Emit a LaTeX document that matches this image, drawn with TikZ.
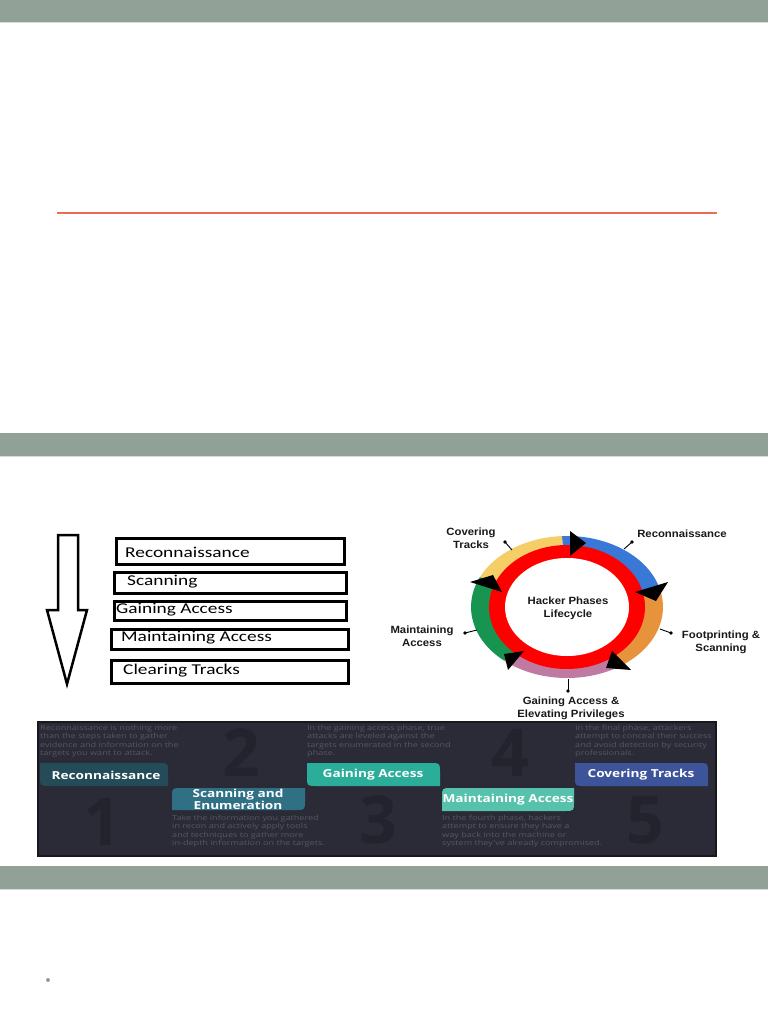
\documentclass[tikz,border=0pt]{standalone}
\usepackage{fontspec}
\usepackage{graphicx}
\setmainfont{Liberation Sans}
\newfontfamily\calfont{Carlito}
\newfontfamily\osfont{Open Sans}
\usetikzlibrary{calc}
\definecolor{barc}{RGB}{146,161,151}
\definecolor{barline}{RGB}{214,220,214}
\definecolor{redl}{RGB}{232,108,88}
\definecolor{bannerbg}{RGB}{42,43,54}
\definecolor{bannerbd}{RGB}{24,24,30}
\definecolor{bignum}{RGB}{34,35,45}
\definecolor{bodytx}{RGB}{86,87,98}
\definecolor{tabrecon}{RGB}{36,76,88}
\definecolor{tabscan}{RGB}{47,112,132}
\definecolor{tabgain}{RGB}{42,173,153}
\definecolor{tabmaint}{RGB}{86,194,172}
\definecolor{tabcover}{RGB}{62,84,154}
\definecolor{cblue}{RGB}{58,120,216}
\definecolor{corange}{RGB}{231,147,60}
\definecolor{cmauve}{RGB}{190,122,160}
\definecolor{cgreen}{RGB}{22,148,80}
\definecolor{cyellow}{RGB}{246,206,104}
\definecolor{cred}{RGB}{255,0,0}
\newcommand{\hs}[2]{\scalebox{#1}[1]{#2}}
\newcommand{\sector}[3]{\fill[#1] (cc) -- ($(cc)+({96*cos(#2)},{-71*sin(#2)})$) arc[start angle=#2, end angle=#3, x radius=96pt, y radius=71pt] -- cycle;}
\begin{document}
\begin{tikzpicture}[x=1pt,y=-1pt,
  lbox/.style={draw=black, line width=3pt, inner sep=0pt, anchor=north west},
  ltext/.style={anchor=west, inner sep=0pt, font=\calfont\fontsize{15}{15}\selectfont},
  clabel/.style={align=center, inner sep=0pt, text=black!90, font=\bfseries\fontsize{10.5}{13}\selectfont},
  pin/.style={line width=0.9pt, black},
  tabtext/.style={text=white, inner sep=0pt, align=center, font=\osfont\bfseries\fontsize{11}{10}\selectfont},
  bodytext/.style={anchor=north west, inner sep=0pt, text=bodytx, font=\osfont\fontsize{7}{8.5}\selectfont},
  numtext/.style={text=bignum, inner sep=0pt, text height=47pt, text depth=0pt, font=\osfont\bfseries\fontsize{66}{66}\selectfont}]
\useasboundingbox (0,0) rectangle (768,1024);
\fill[white] (0,0) rectangle (768,1024);
% grey bars
\fill[barc] (0,0) rectangle (768,22);
\draw[barline, line width=1pt] (0,22.5) -- (768,22.5);
\fill[barc] (0,433) rectangle (768,456);
\draw[barline, line width=1pt] (0,456.5) -- (768,456.5);
\fill[barc] (0,866) rectangle (768,889);
\draw[barline, line width=1pt] (0,889.5) -- (768,889.5);
% red rule
\coordinate (rl) at (57,213.5);
\coordinate (rr) at (717,213.5);
\draw[redl, line width=2pt] (rl) -- (rr);
% bullet
\fill[barc] (48,980) circle (2pt);

% hollow down arrow
\draw[line width=2.5pt, line join=miter] (58,535) -- (78,535) -- (78,610) -- (87,610) -- (67,684) -- (47,610) -- (58,610) -- cycle;

% phase boxes
\node[lbox, minimum width=228pt, minimum height=26pt] (b1) at (115,537) {};
\node[lbox, minimum width=232pt, minimum height=21pt] (b2) at (113,571) {};
\node[lbox, minimum width=232pt, minimum height=19pt] (b3) at (113,600) {};
\node[lbox, minimum width=237pt, minimum height=20pt] (b4) at (110,628) {};
\node[lbox, minimum width=237pt, minimum height=23pt] (b5) at (110,659) {};
\node[ltext] (t1) at (125,552) {\hs{1.29}{Reconnaissance}};
\node[ltext] (t2) at (127,582) {\hs{1.29}{Scanning}};
\node[ltext] (t3) at (116,609.5) {\hs{1.29}{Gaining Access}};
\node[ltext] (t4) at (121,638) {\hs{1.29}{Maintaining Access}};
\node[ltext] (t5) at (123,671) {\hs{1.29}{Clearing Tracks}};

% lifecycle circle
\coordinate (cc) at (567,607);
\sector{cblue}{93}{14}
\sector{corange}{14}{-54}
\sector{cmauve}{-54}{-131}
\sector{cgreen}{-131}{-205}
\sector{cyellow}{155}{93}
\fill[cred] (cc) ellipse [x radius=78pt, y radius=62pt];
\fill[white] (cc) ellipse [x radius=62pt, y radius=49pt];
\fill[black] (570,531) -- (570,556) -- (586,543) -- cycle;
\fill[black] (635,592) -- (668,582) -- (656,601) -- cycle;
\fill[black] (612,651) -- (606,668) -- (631,670) -- cycle;
\fill[black] (504,654) -- (524,651) -- (508,670) -- cycle;
\fill[black] (470,582) -- (493,575) -- (502,592) -- cycle;
\node[clabel] (hub) at (568,608.5) {\hs{1.08}{Hacker Phases}\\\hs{1.08}{Lifecycle}};
% labels with pins
\node[clabel] (lcov) at (471,538.5) {\hs{1.08}{Covering}\\\hs{1.08}{Tracks}};
\coordinate (dcov) at (505,542); \coordinate (ecov) at (512,550);
\fill (dcov) circle (1.8pt); \draw[pin] (dcov) -- (ecov);
\node[clabel] (lrec) at (682,534) {\hs{1.08}{Reconnaissance}};
\coordinate (drec) at (632,542); \coordinate (erec) at (624,549);
\fill (drec) circle (1.8pt); \draw[pin] (drec) -- (erec);
\node[clabel] (lfoo) at (721,642) {\hs{1.08}{Footprinting \&}\\\hs{1.08}{Scanning}};
\coordinate (dfoo) at (671,633); \coordinate (efoo) at (660,629);
\fill (dfoo) circle (1.8pt); \draw[pin] (dfoo) -- (efoo);
\node[clabel] (lmai) at (422,636) {\hs{1.08}{Maintaining}\\\hs{1.08}{Access}};
\coordinate (dmai) at (465,633); \coordinate (emai) at (477,630);
\fill (dmai) circle (1.8pt); \draw[pin] (dmai) -- (emai);
\node[clabel] (lgai) at (571,708.5) {\hs{1.08}{Gaining Access \&}\\\hs{1.08}{Elevating Privileges}};
\coordinate (dgai) at (568,691); \coordinate (egai) at (568,679);
\fill (dgai) circle (1.8pt); \draw[pin] (dgai) -- (egai);

% dark banner
\fill[bannerbg] (38,722) rectangle (716,856);
\draw[bannerbd, line width=1.5pt] (38,722) rectangle (716,856);
\node[numtext] (n1) at (102,822) {1};
\node[numtext] (n2) at (241,753) {2};
\node[numtext] (n3) at (378,820) {3};
\node[numtext] (n4) at (510,753) {4};
\node[numtext] (n5) at (645,820) {5};
\node[bodytext] (p1) at (40,724) {\hs{1.3}{\begin{tabular}{@{}l@{}}Reconnaissance is nothing more\\than the steps taken to gather\\evidence and information on the\\targets you want to attack.\end{tabular}}};
\node[bodytext] (p2) at (172,814) {\hs{1.3}{\begin{tabular}{@{}l@{}}Take the information you gathered\\in recon and actively apply tools\\and techniques to gather more\\in-depth information on the targets.\end{tabular}}};
\node[bodytext] (p3) at (307,724) {\hs{1.3}{\begin{tabular}{@{}l@{}}In the gaining access phase, true\\attacks are leveled against the\\targets enumerated in the second\\phase.\end{tabular}}};
\node[bodytext] (p4) at (442,814) {\hs{1.3}{\begin{tabular}{@{}l@{}}In the fourth phase, hackers\\attempt to ensure they have a\\way back into the machine or\\system they've already compromised.\end{tabular}}};
\node[bodytext] (p5) at (575,724) {\hs{1.3}{\begin{tabular}{@{}l@{}}In the final phase, attackers\\attempt to conceal their success\\and avoid detection by security\\professionals.\end{tabular}}};
% tabs (upper: TR & BL rounded; lower: TL & BR rounded)
\fill[tabrecon] (40,763) -- (158,763) .. controls (168,763) .. (168,772) -- (168,786) -- (50,786) .. controls (40,786) .. (40,777) -- cycle;
\fill[tabscan] (172,797) .. controls (172,788) .. (182,788) -- (305,788) -- (305,801) .. controls (305,810) .. (295,810) -- (172,810) -- cycle;
\fill[tabgain] (307,763) -- (430,763) .. controls (440,763) .. (440,772) -- (440,786) -- (317,786) .. controls (307,786) .. (307,777) -- cycle;
\fill[tabmaint] (442,797) .. controls (442,788) .. (452,788) -- (574,788) -- (574,802) .. controls (574,811) .. (564,811) -- (442,811) -- cycle;
\fill[tabcover] (575,763) -- (698,763) .. controls (708,763) .. (708,772) -- (708,786) -- (585,786) .. controls (575,786) .. (575,777) -- cycle;
\node[tabtext] (g1) at (106,775) {\hs{1.24}{Reconnaissance}};
\node[tabtext] (g2) at (238,799) {\hs{1.24}{Scanning and}\\\hs{1.24}{Enumeration}};
\node[tabtext] (g3) at (373,775) {\hs{1.24}{Gaining Access}};
\node[tabtext] (g4) at (508,800) {\hs{1.24}{Maintaining Access}};
\node[tabtext] (g5) at (641,775) {\hs{1.24}{Covering Tracks}};
\end{tikzpicture}
\end{document}
